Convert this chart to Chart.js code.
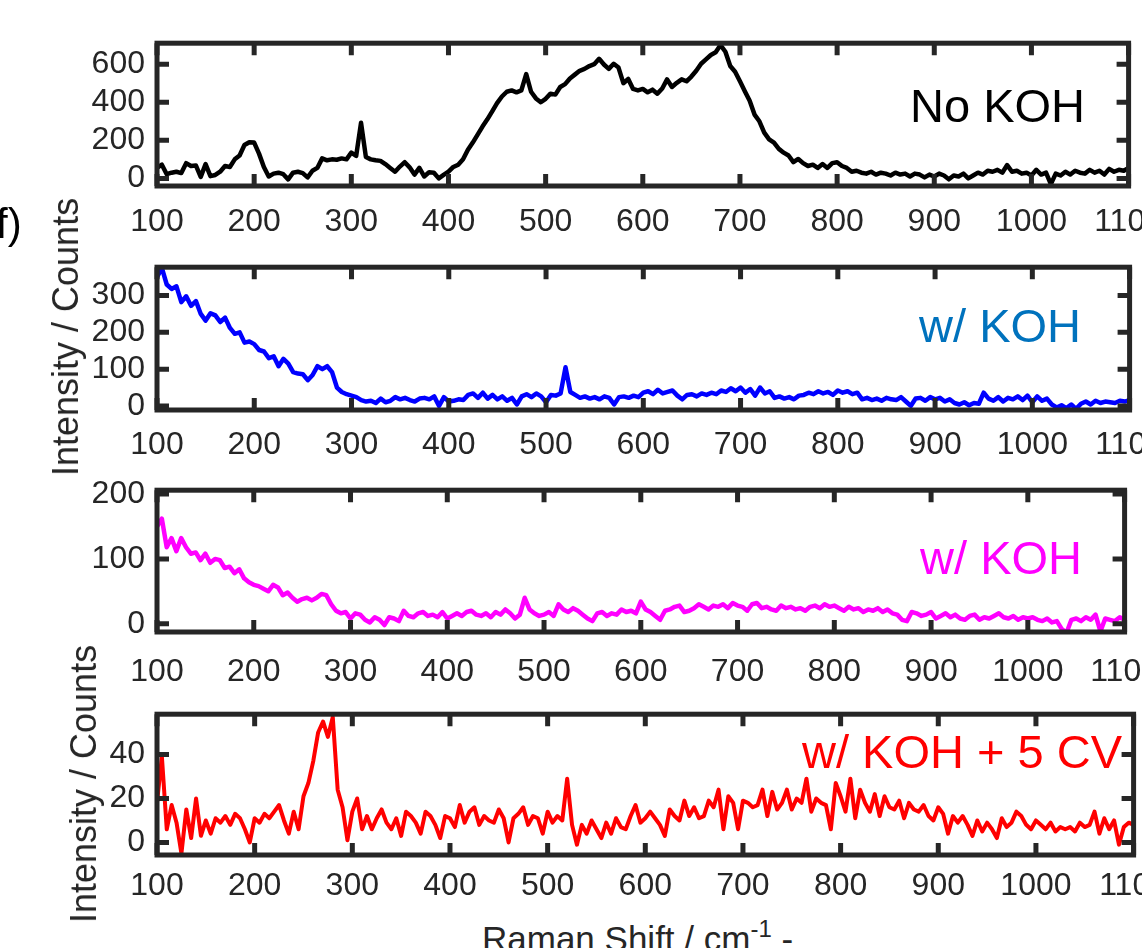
<!DOCTYPE html>
<html>
<head>
<meta charset="utf-8">
<script src="https://cdn.jsdelivr.net/npm/chart.js@4.4.1/dist/chart.umd.min.js"></script>
<style>
    html, body { margin: 0; padding: 0; background: #fff; }
    body {
        width: 1142px; height: 948px; overflow: hidden; position: relative;
        font-family: "Liberation Sans", Arial, Helvetica, sans-serif;
    }
    canvas.panel { position: absolute; left: 0; }
    .note { position: absolute; font-size: 47px; line-height: 47px; white-space: nowrap; }
    .ytitle {
        position: absolute; font-size: 36px; line-height: 36px; white-space: nowrap; color: #262626;
        transform: translate(-50%, -50%) rotate(-90deg);
    }
    .xtitle { position: absolute; left: 482px; top: 921px; font-size: 35px; line-height: 35px; white-space: nowrap; color: #262626; }
    .xtitle sup { font-size: 24px; vertical-align: 14px; line-height: 0; }
    .tag { position: absolute; left: -4px; top: 203px; font-size: 42px; line-height: 42px; color: #000; }
</style>
</head>
<body>
<canvas class="panel" id="p1"></canvas>
<canvas class="panel" id="p2"></canvas>
<canvas class="panel" id="p3"></canvas>
<canvas class="panel" id="p4"></canvas>

<div class="note" style="right:57px; top:82px; color:#000000;">No KOH</div>
<div class="note" style="right:61px; top:302px; color:#0072BD;">w/ KOH</div>
<div class="note" style="right:60px; top:534px; color:#FF00FF;">w/ KOH</div>
<div class="note" style="right:20px; top:728px; color:#FF0000;">w/ KOH + 5 CV</div>

<div class="ytitle" style="left:66px; top:337px;">Intensity / Counts</div>
<div class="ytitle" style="left:84px; top:784px;">Intensity / Counts</div>
<div class="tag">f)</div>
<div class="xtitle">Raman Shift / cm<sup>-1</sup> -</div>

<script>
// Raman shift sampling (cm-1): first point and spacing
const SHIFT_START = 100;
const SHIFT_STEP = 5;

const X_TICKS = [100, 200, 300, 400, 500, 600, 700, 800, 900, 1000, 1100];

// No KOH (black)
const NO_KOH = [
    55, 72, 22, 30, 35, 28, 80, 65, 68, 8, 75, 12, 18, 35, 65, 60, 100, 120, 175, 190,
    188, 130, 60, 10, 25, 30, 22, -5, 30, 35, 28, 5, 40, 55, 105, 95, 100, 98, 105, 100,
    135, 118, 292, 112, 100, 95, 92, 75, 55, 35, 62, 85, 58, 20, 55, 10, 32, 30, 0, 18,
    35, 60, 72, 100, 150, 188, 230, 272, 310, 352, 395, 430, 455, 462, 452, 462, 548, 455, 420, 400,
    418, 445, 440, 480, 495, 525, 545, 565, 575, 590, 600, 628, 598, 575, 602, 582, 500, 522, 470, 462,
    470, 452, 466, 445, 472, 520, 480, 502, 520, 510, 535, 565, 602, 625, 648, 662, 700, 665, 590, 560,
    510, 458, 408, 335, 300, 240, 205, 188, 155, 135, 120, 85, 102, 80, 65, 72, 55, 75, 55, 80,
    85, 65, 55, 35, 40, 30, 25, 35, 20, 30, 25, 15, 30, 20, 25, 10, 25, 20, 5, 20,
    10, 25, 15, -5, 15, 10, 25, 0, 15, 30, 20, 40, 35, 45, 30, 70, 35, 40, 25, 30,
    15, 45, 20, 30, -30, 25, 15, 35, 20, 40, 30, 25, 45, 30, 40, 20, 50, 35, 45, 40,
    55
];

// w/ KOH (blue)
const W_KOH_BLUE = [
    350, 375, 330, 318, 325, 282, 298, 272, 285, 250, 232, 252, 246, 228, 240, 212, 196, 200, 172, 175,
    168, 152, 148, 130, 135, 108, 128, 115, 92, 88, 86, 70, 84, 108, 100, 108, 92, 50, 38, 32,
    28, 24, 16, 12, 14, 8, 20, 10, 14, 24, 18, 22, 16, 12, 20, 22, 18, 26, 0, 24,
    12, 14, 18, 16, 30, 34, 22, 36, 20, 30, 18, 26, 14, 22, 4, 26, 32, 24, 34, 26,
    10, 30, 28, 34, 105, 38, 30, 22, 26, 20, 24, 18, 26, 22, 4, 24, 26, 22, 28, 24,
    36, 40, 32, 44, 34, 38, 42, 28, 18, 30, 32, 26, 34, 30, 36, 32, 42, 38, 48, 40,
    50, 36, 46, 28, 50, 34, 40, 22, 26, 20, 24, 18, 28, 30, 36, 32, 40, 34, 38, 30,
    42, 36, 40, 32, 36, 18, 22, 16, 20, 14, 22, 18, 16, 24, 12, 0, 20, 22, 14, 24,
    18, 22, 12, 18, 8, 4, 10, 2, 8, 6, 36, 20, 14, 24, 12, 22, 18, 26, 16, 28,
    10, 26, 14, 20, 4, -4, 2, -6, 4, -8, 6, 12, 4, 14, 8, 12, 10, 8, 14, 12,
    16
];

// w/ KOH (magenta)
const W_KOH_MAGENTA = [
    150, 162, 118, 132, 112, 132, 118, 108, 110, 98, 108, 94, 100, 98, 86, 88, 78, 84, 70, 64,
    60, 58, 54, 50, 60, 56, 44, 48, 40, 34, 38, 40, 36, 40, 46, 44, 30, 20, 16, 18,
    8, 16, 14, 6, 2, 10, 6, -2, 10, 8, 4, 20, 12, 10, 16, 18, 12, 14, 10, 18,
    8, 12, 16, 12, 18, 20, 14, 12, 16, 10, 18, 14, 22, 16, 8, 14, 40, 22, 16, 12,
    14, 18, 12, 30, 22, 18, 24, 20, 14, 8, 4, 16, 18, 12, 16, 14, 22, 18, 20, 16,
    34, 22, 18, 12, 6, 20, 22, 26, 28, 18, 20, 24, 30, 26, 22, 28, 26, 30, 24, 32,
    28, 26, 20, 30, 32, 24, 26, 22, 20, 28, 24, 26, 22, 24, 20, 26, 28, 24, 30, 26,
    28, 24, 20, 26, 22, 24, 18, 22, 20, 24, 18, 22, 16, 14, 6, 4, 18, 16, 12, 14,
    18, 8, 12, 16, 10, 14, 8, 6, 12, 14, 6, 10, 8, 12, 16, 10, 8, 12, 6, 10,
    8, 10, 6, 4, 8, 2, 4, -8, -14, 6, 8, 4, 10, 6, 14, -12, 8, 6, 4, 10,
    6
];

// w/ KOH + 5 CV (red)
const W_KOH_5CV = [
    18, 39, 6, 17, 9, -5, 15, 2, 20, 3, 10, 4, 11, 9, 12, 8, 13, 11, 6, 0,
    11, 9, 13, 11, 14, 17, 10, 4, 14, 6, 21, 27, 37, 50, 55, 48, 57, 24, 16, 1,
    14, 20, 6, 12, 6, 11, 15, 9, 6, 11, 3, 14, 12, 9, 4, 14, 12, 8, 2, 12,
    11, 7, 17, 9, 14, 16, 8, 12, 10, 9, 15, 11, 0, 11, 13, 16, 8, 12, 11, 4,
    14, 9, 12, 10, 29, 8, -1, 8, 4, 10, 6, 2, 9, 4, 11, 7, 6, 12, 17, 9,
    11, 14, 11, 8, 3, 15, 12, 10, 19, 12, 16, 11, 12, 19, 16, 24, 6, 21, 18, 6,
    19, 18, 16, 17, 24, 12, 23, 15, 18, 24, 15, 20, 18, 29, 14, 20, 18, 17, 6, 27,
    21, 14, 29, 11, 24, 18, 14, 22, 12, 21, 16, 15, 19, 11, 18, 15, 14, 17, 12, 10,
    16, 13, 4, 12, 9, 12, 8, 3, 10, 5, 9, 6, 2, 11, 7, 9, 14, 12, 8, 6,
    10, 8, 6, 9, 5, 7, 6, 7, 5, 9, 7, 8, 14, 4, 11, 6, 10, -1, 7, 9,
    8
];

const Y_TICKS_NO_KOH = [0, 200, 400, 600];
const Y_TICKS_BLUE = [0, 100, 200, 300];
const Y_TICKS_MAGENTA = [0, 100, 200];
const Y_TICKS_5CV = [0, 20, 40];

// Layout / style
const FONT = '"Liberation Sans", Arial, Helvetica, sans-serif';
const AXIS_COLOR = '#262626';
const CANVAS_W = 1180;
const PLOT_LEFT = 157;
const PLOT_RIGHT = 1137;
const PAD_TOP = 24;
const XAXIS_H = 52;
const TICK_LEN = 12;
const TICK_FONT_SIZE = 32;

const panels = [
    { id: 'p1', values: NO_KOH, color: '#000000', width: 4.5, top: 36, bottom: 186, yMin: -40, yMax: 710, yTicks: Y_TICKS_NO_KOH, labelPad: 17 },
    { id: 'p2', values: W_KOH_BLUE, color: '#0000FF', width: 4.5, top: 260, bottom: 410, yMin: -11, yMax: 377, yTicks: Y_TICKS_BLUE, labelPad: 16 },
    { id: 'p3', values: W_KOH_MAGENTA, color: '#FF00FF', width: 4.5, top: 483, bottom: 632, yMin: -12.8, yMax: 206, yTicks: Y_TICKS_MAGENTA, labelPad: 21 },
    { id: 'p4', values: W_KOH_5CV, color: '#FF0000', width: 4, top: 707, bottom: 855, yMin: -5.7, yMax: 58.3, yTicks: Y_TICKS_5CV, labelPad: 12 }
];

// box around the plot area with inward ticks on all four sides (MATLAB style)
const boxPlugin = {
    id: 'box',
    afterDatasetsDraw(chart) {
        const { ctx, chartArea: a, scales } = chart;
        ctx.save();
        ctx.strokeStyle = AXIS_COLOR;
        ctx.lineWidth = 5;
        ctx.lineCap = 'butt';
        ctx.beginPath();
        scales.x.ticks.forEach(t => {
            const px = scales.x.getPixelForValue(t.value);
            ctx.moveTo(px, a.bottom); ctx.lineTo(px, a.bottom - TICK_LEN);
            ctx.moveTo(px, a.top); ctx.lineTo(px, a.top + TICK_LEN);
        });
        scales.y.ticks.forEach(t => {
            const py = scales.y.getPixelForValue(t.value);
            ctx.moveTo(a.left, py); ctx.lineTo(a.left + TICK_LEN, py);
            ctx.moveTo(a.right, py); ctx.lineTo(a.right - TICK_LEN, py);
        });
        ctx.stroke();
        ctx.strokeRect(a.left, a.top, a.right - a.left, a.bottom - a.top);
        ctx.restore();
    }
};

function makePanel(p) {
    const canvas = document.getElementById(p.id);
    const h = PAD_TOP + (p.bottom - p.top) + XAXIS_H;
    canvas.width = CANVAS_W;
    canvas.height = h;
    canvas.style.top = (p.top - PAD_TOP) + 'px';

    const points = p.values.map((v, i) => ({ x: SHIFT_START + i * SHIFT_STEP, y: v }));

    return new Chart(canvas.getContext('2d'), {
        type: 'line',
        data: {
            datasets: [{
                data: points,
                borderColor: p.color,
                borderWidth: p.width,
                borderJoinStyle: 'round',
                pointRadius: 0,
                tension: 0,
                fill: false
            }]
        },
        options: {
            responsive: false,
            animation: false,
            devicePixelRatio: 1,
            layout: { padding: { top: PAD_TOP, right: CANVAS_W - PLOT_RIGHT, left: 0, bottom: 0 } },
            plugins: { legend: { display: false }, tooltip: { enabled: false } },
            scales: {
                x: {
                    type: 'linear',
                    min: 100,
                    max: 1100,
                    grid: { display: false, drawTicks: false },
                    border: { display: false },
                    afterBuildTicks: s => { s.ticks = X_TICKS.map(v => ({ value: v })); },
                    afterFit: s => { s.height = XAXIS_H; },
                    ticks: {
                        autoSkip: false,
                        maxRotation: 0,
                        padding: p.labelPad,
                        color: AXIS_COLOR,
                        font: { family: FONT, size: TICK_FONT_SIZE },
                        callback: v => String(v)
                    }
                },
                y: {
                    type: 'linear',
                    min: p.yMin,
                    max: p.yMax,
                    grid: { display: false, drawTicks: false },
                    border: { display: false },
                    afterBuildTicks: s => { s.ticks = p.yTicks.map(v => ({ value: v })); },
                    afterFit: s => { s.width = PLOT_LEFT; },
                    ticks: {
                        padding: 12,
                        color: AXIS_COLOR,
                        font: { family: FONT, size: TICK_FONT_SIZE },
                        callback: v => String(v)
                    }
                }
            }
        },
        plugins: [boxPlugin]
    });
}

panels.forEach(makePanel);
</script>
</body>
</html>
